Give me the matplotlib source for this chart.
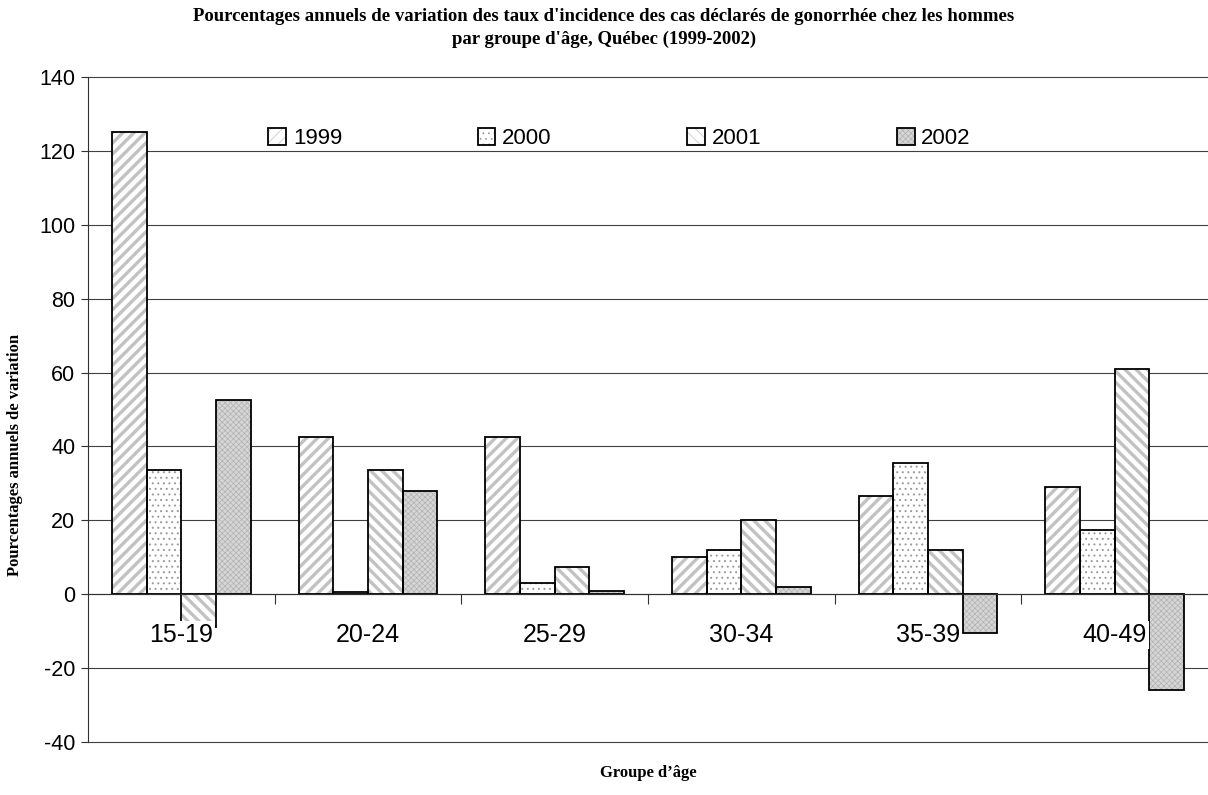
import numpy as np
import matplotlib
matplotlib.use('Agg')
import matplotlib.pyplot as plt

# données
groupes = ['15-19', '20-24', '25-29', '30-34', '35-39', '40-49']
annees = ['1999', '2000', '2001', '2002']
v1999 = [125, 42.5, 42.5, 10, 26.5, 29]
v2000 = [33.5, 0.5, 3, 12, 35.5, 17.5]
v2001 = [-9, 33.5, 7.5, 20, 12, 61]
v2002 = [52.5, 28, 1, 2, -10.5, -26]
y_ticks = list(range(-40, 141, 20))

plt.rcParams['font.family'] = ['Liberation Sans', 'DejaVu Sans']
plt.rcParams['axes.unicode_minus'] = False

fig = plt.figure(figsize=(12.08, 7.95), dpi=100)
ax = fig.add_axes([88 / 1208, 53 / 795, 1120 / 1208, 665 / 795])

styles = [
    dict(facecolor='white', hatch='///', hcolor='#c2c2c2', hlw=2.4),
    dict(facecolor='white', hatch='...', hcolor='#9a9a9a', hlw=0.7),
    dict(facecolor='white', hatch='\\\\\\', hcolor='#c2c2c2', hlw=2.4),
    dict(facecolor='#d6d6d6', hatch='xxxxxx', hcolor='#b2b2b2', hlw=0.5),
]

x = np.arange(len(groupes))
largeur = 0.186
handles = []
for i, (valeurs, st) in enumerate(zip([v1999, v2000, v2001, v2002], styles)):
    pos = x + (i - 1.5) * largeur
    plt.rcParams['hatch.linewidth'] = st['hlw']
    b1 = ax.bar(pos, valeurs, largeur, facecolor=st['facecolor'], edgecolor=st['hcolor'],
                hatch=st['hatch'], linewidth=0, zorder=2)
    for p in b1:
        if hasattr(p, 'set_hatch_linewidth'):
            p.set_hatch_linewidth(st['hlw'])
    b2 = ax.bar(pos, valeurs, largeur, fill=False, edgecolor='black', linewidth=1.3, zorder=3)
    handles.append((b1[0], b2[0]))

ax.set_xlim(-0.5, len(groupes) - 0.5)
ax.set_ylim(-40, 140)
ax.set_yticks(y_ticks)
ax.tick_params(axis='y', labelsize=15.5, length=5, width=0.8, color='#303030', pad=4)
ax.set_axisbelow(True)
ax.grid(axis='y', color='#404040', linewidth=0.8)
for gl in ax.get_ygridlines():
    gl.set_clip_on(False)

ax.spines['top'].set_visible(False)
ax.spines['right'].set_visible(False)
ax.spines['left'].set_color('#303030')
ax.spines['bottom'].set_position(('data', 0))
ax.spines['bottom'].set_color('#303030')
ax.spines['bottom'].set_zorder(4)

# petites marques entre les groupes
ax.set_xticks(x[:-1] + 0.5)
ax.set_xticklabels([])
ax.tick_params(axis='x', length=7, width=0.8, color='#303030', direction='out')

# étiquettes de catégories avec fond blanc (au-dessus des barres)
for xi, g in zip(x, groupes):
    ax.text(xi, 0.1504, g, transform=ax.get_xaxis_transform(), ha='center', va='baseline',
            fontsize=18, zorder=6,
            bbox=dict(facecolor='white', edgecolor='none', pad=1.5))

leg = ax.legend(handles, annees, loc='center', bbox_to_anchor=(0.4746, 0.908), ncol=4,
                frameon=False, fontsize=16, handlelength=0.8, handleheight=0.8,
                handletextpad=0.3, columnspacing=6.1)

fig.text(0.5, 0.99, "Pourcentages annuels de variation des taux d'incidence des cas déclarés de gonorrhée chez les hommes\n"
         "par groupe d'âge, Québec (1999-2002)",
         ha='center', va='top', fontsize=13.5, fontweight='bold', family='Liberation Serif',
         linespacing=1.45)

fig.text(0.0124, 0.428, 'Pourcentages annuels de variation', rotation=90, ha='center', va='center',
         fontsize=12, fontweight='bold', family='Liberation Serif')
fig.text((88 + 560) / 1208, 22 / 795, 'Groupe d’âge', ha='center', va='center',
         fontsize=12, fontweight='bold', family='Liberation Serif')

fig.savefig('out.png', dpi=100)
